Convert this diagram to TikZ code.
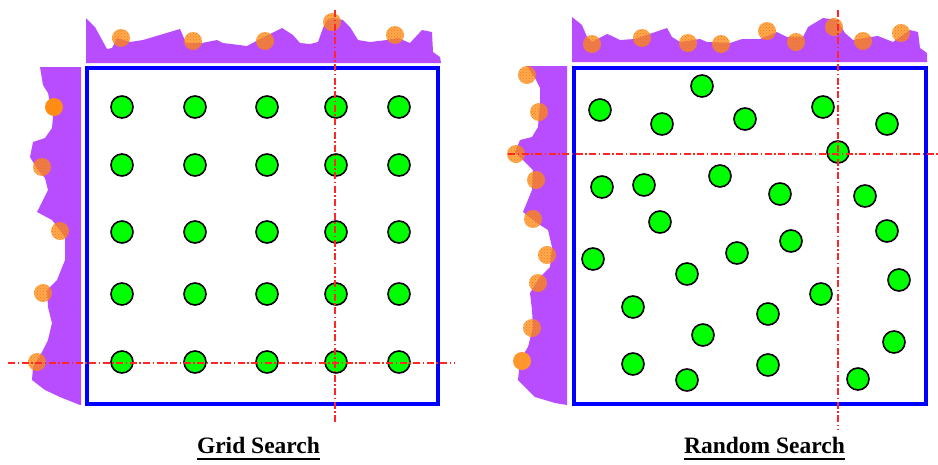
\documentclass[tikz,border=0pt]{standalone}
\usepackage{fontspec}
\setmainfont{Liberation Serif}
\usetikzlibrary{patterns,calc}
\definecolor{purp}{RGB}{184,77,255}
\definecolor{grn}{RGB}{0,255,0}
\definecolor{blu}{RGB}{0,0,255}
\definecolor{orng}{RGB}{255,140,20}
\definecolor{orngd}{RGB}{240,110,0}
\tikzset{
  gc/.style={circle,draw=black,line width=1.6pt,fill=grn,minimum size=22pt,inner sep=0pt},
  oc/.style={circle,fill=orng,fill opacity=0.75,minimum size=18pt,inner sep=0pt,
    postaction={pattern=crosshatch dots,pattern color=orngd}},
  ocs/.style={circle,fill=orng,minimum size=18pt,inner sep=0pt},
  boxst/.style={draw=blu,line width=3.2pt},
  land/.style={fill=purp},
  redl/.style={draw=red!85!white,line width=1.3pt,dash pattern=on 7pt off 2.5pt on 1.5pt off 2.5pt},
  lab/.style={font=\fontsize{23.5}{26}\selectfont\bfseries,inner sep=0pt,anchor=base}
}
\begin{document}
\begin{tikzpicture}[x=1pt,y=-1pt]
\useasboundingbox (0,0) rectangle (938,464);
% ---------- LEFT: Grid Search ----------
\fill[land] (86,18) -- (95,27) -- (107,49) -- (112,48) -- (117,38) -- (130,42) -- (143,40) -- (180,29) -- (186,43) -- (202,43) -- (217,40) -- (223,43) -- (247,46) -- (260,39) -- (282,28) -- (293,35) -- (300,43) -- (310,44) -- (318,42) -- (323,28) -- (327,20) -- (333,18) -- (343,20) -- (350,27) -- (358,40) -- (370,42) -- (387,40) -- (398,38) -- (410,43) -- (422,30) -- (432,32) -- (433,52) -- (440,57) -- (441,63) -- (86,63) -- cycle;
\fill[land] (81,67) -- (40,67) -- (43,85) -- (48,93) -- (53,117) -- (52,128) -- (45,138) -- (33,142) -- (30,157) -- (38,170) -- (45,178) -- (48,190) -- (37,212) -- (52,220) -- (65,237) -- (65,260) -- (57,280) -- (47,290) -- (48,307) -- (52,323) -- (48,340) -- (42,352) -- (33,367) -- (32,380) -- (45,390) -- (60,397) -- (80,405) -- (81,405) -- cycle;
\draw[boxst] (87,68) rectangle (438,404);
\foreach \c/\x in {1/122,2/195,3/267,4/336,5/399}{
  \foreach \r/\y in {1/107,2/165,3/232,4/294,5/362}{
    \node[gc] (g\c\r) at (\x,\y) {};
  }
}
\node[oc] (lt1) at (121,38) {};
\node[oc] (lt2) at (193,41) {};
\node[oc] (lt3) at (265,41) {};
\node[oc] (lt4) at (332,22) {};
\node[oc] (lt5) at (395,35) {};
\node[ocs] (ll1) at (54,107) {};
\node[oc] (ll2) at (42,167) {};
\node[oc] (ll3) at (60,231) {};
\node[oc] (ll4) at (43,293) {};
\node[oc] (ll5) at (37,362) {};
\coordinate (lvt) at (335,10);
\coordinate (lvb) at (335,423);
\coordinate (lhl) at (8,363);
\coordinate (lhr) at (455,363);
\draw[redl] (lvt) -- (lvb);
\draw[redl] (lhl) -- (lhr);
\node[lab] (lablL) at (258.5,453) {Grid Search};
\draw[line width=2.2pt] ($(lablL.base west)+(0,6)$) -- ($(lablL.base east)+(0,6)$);
% ---------- RIGHT: Random Search ----------
\fill[land] (572,17) -- (582,25) -- (587,37) -- (592,42) -- (607,34) -- (612,36) -- (620,40) -- (635,39) -- (667,28) -- (672,37) -- (680,42) -- (700,39) -- (707,42) -- (730,43) -- (742,39) -- (760,39) -- (777,32) -- (787,37) -- (803,37) -- (808,27) -- (823,18) -- (837,20) -- (845,33) -- (853,40) -- (870,37) -- (878,36) -- (893,42) -- (910,30) -- (918,32) -- (920,48) -- (927,53) -- (927,62) -- (572,62) -- cycle;
\fill[land] (567,66) -- (527,66) -- (535,78) -- (540,88) -- (540,103) -- (538,127) -- (532,137) -- (520,140) -- (515,152) -- (523,160) -- (533,170) -- (532,190) -- (523,212) -- (537,223) -- (548,230) -- (552,247) -- (550,267) -- (540,277) -- (530,293) -- (532,310) -- (533,327) -- (528,347) -- (520,360) -- (518,380) -- (535,397) -- (555,403) -- (567,405) -- cycle;
\draw[boxst] (574,68) rectangle (926,404);
\foreach \n/\x/\y in {1/600/110,2/702/86,3/662/124,4/745/119,5/823/107,6/887/124,7/838/152,
  8/602/187,9/644/185,10/720/176,11/780/194,12/865/196,13/660/222,14/593/259,15/737/253,
  16/791/241,17/887/231,18/687/274,19/899/280,20/821/294,21/633/307,22/768/314,23/703/335,
  24/894/342,25/633/364,26/768/365,27/687/380,28/858/379}{
  \node[gc] (r\n) at (\x,\y) {};
}
\node[oc] (rt1) at (592,44) {};
\node[oc] (rt2) at (642,38) {};
\node[oc] (rt3) at (688,43) {};
\node[oc] (rt4) at (721,44) {};
\node[oc] (rt5) at (767,31) {};
\node[oc] (rt6) at (796,42) {};
\node[oc] (rt7) at (834,27) {};
\node[oc] (rt8) at (863,41) {};
\node[oc] (rt9) at (901,33) {};
\node[oc] (rl1) at (527,75) {};
\node[oc] (rl2) at (539,112) {};
\node[oc] (rl3) at (516,154) {};
\node[oc] (rl4) at (536,180) {};
\node[oc] (rl5) at (533,219) {};
\node[oc] (rl6) at (547,255) {};
\node[oc] (rl7) at (538,283) {};
\node[oc] (rl8) at (532,328) {};
\node[ocs,fill=orng!90] (rl9) at (522,361) {};
\coordinate (rvt) at (838,10);
\coordinate (rvb) at (838,430);
\coordinate (rhl) at (508,154);
\coordinate (rhr) at (938,154);
\draw[redl] (rvt) -- (rvb);
\draw[redl] (rhl) -- (rhr);
\node[lab] (lablR) at (764.5,453) {Random Search};
\draw[line width=2.2pt] ($(lablR.base west)+(0,6)$) -- ($(lablR.base east)+(0,6)$);
\end{tikzpicture}
\end{document}
